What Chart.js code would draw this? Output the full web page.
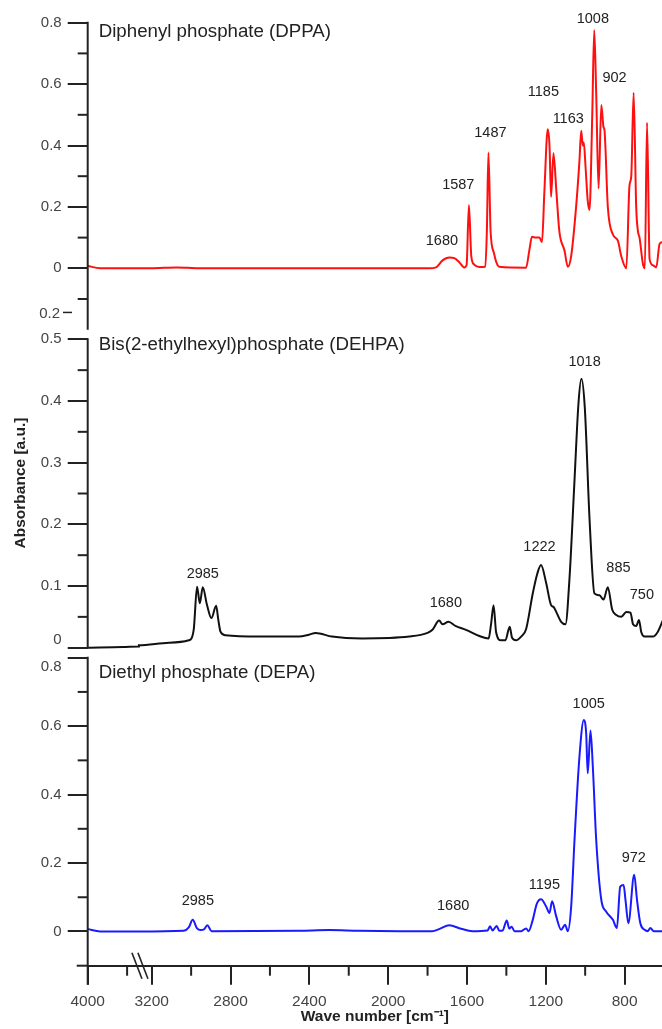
<!DOCTYPE html>
<html>
<head>
<meta charset="utf-8">
<script src="https://cdn.jsdelivr.net/npm/chart.js@4.4.1/dist/chart.umd.min.js"></script>
<style>
  html, body { margin: 0; padding: 0; background: #fff; }
</style>
</head>
<body>
<canvas id="irChart" width="662" height="1029"></canvas>
<script>
// spectra: [wave number, absorbance]
const dppa = [[4000,0.008],[3937,0],[3785,0],[3740,0],[3265,0],[3205,0],[3073,0.003],[2961,0],[2453,0],[1944,0],
  [1792,0],[1757,0.003],[1725,0.025],[1690,0.035],[1664,0.033],[1639,0.02],[1614,0.003],[1602,0.01],[1590,0.206],
  [1578,0.04],[1563,0.012],[1537,0.004],[1507,0.005],[1499,0.12],[1491,0.377],[1480,0.12],[1463,0.05],[1451,0.02],
  [1436,0.005],[1300,0.002],[1283,0.06],[1270,0.103],[1253,0.1],[1232,0.1],[1219,0.085],[1207,0.25],[1190,0.453],
  [1181,0.4],[1173,0.233],[1161,0.375],[1146,0.25],[1131,0.12],[1105,0.058],[1088,0.005],[1071,0.04],[1046,0.2],
  [1029,0.35],[1020,0.448],[1012,0.4],[1007,0.41],[998,0.33],[987,0.22],[978,0.19],[964,0.5],[954,0.776],[944,0.57],
  [932,0.26],[918,0.532],[907,0.46],[902,0.45],[885,0.2],[859,0.11],[834,0.09],[817,0.04],[791,0],[775,0.27],
  [766,0.3],[754,0.572],[741,0.2],[732,0.12],[724,0.1],[707,0.015],[697,0],[686,0.474],[673,0.03],[656,0.01],
  [639,0.003],[622,0.08],[605,0.085]];

const dehpa = [[4000,0],[3820,0.001],[3740,0.002],[3265,0.004],[3114,0.008],[3012,0.012],[2987,0.029],[2970,0.099],
  [2956,0.072],[2941,0.098],[2920,0.07],[2897,0.048],[2873,0.068],[2862,0.045],[2851,0.026],[2826,0.02],[2656,0.018],
  [2453,0.018],[2402,0.021],[2368,0.024],[2285,0.018],[2132,0.015],[1893,0.018],[1800,0.024],[1775,0.029],[1741,0.044],
  [1724,0.038],[1694,0.042],[1656,0.035],[1605,0.029],[1537,0.019],[1490,0.015],[1477,0.04],[1465,0.069],[1452,0.025],
  [1427,0.012],[1405,0.012],[1383,0.034],[1371,0.016],[1351,0.012],[1325,0.018],[1300,0.03],[1266,0.088],[1243,0.12],
  [1224,0.134],[1198,0.105],[1173,0.069],[1160,0.066],[1144,0.056],[1122,0.042],[1100,0.038],[1080,0.11],[1054,0.272],
  [1034,0.396],[1019,0.436],[1002,0.39],[978,0.21],[953,0.088],[927,0.085],[907,0.078],[885,0.098],[863,0.062],
  [842,0.053],[817,0.05],[791,0.058],[770,0.057],[757,0.038],[741,0.035],[727,0.045],[715,0.025],[698,0.018],
  [656,0.018],[631,0.026],[605,0.045]];

const depa = [[4000,0.007],[3937,0],[3740,0],[3265,0],[3038,0.002],[3012,0.012],[2992,0.034],[2971,0.01],[2952,0.004],
  [2935,0.006],[2918,0.018],[2896,0.001],[2453,0.002],[2300,0.004],[2148,0.002],[1944,0.001],[1776,0.001],[1741,0.007],
  [1690,0.018],[1630,0.008],[1573,0.001],[1495,0.003],[1483,0.015],[1470,0.003],[1449,0.016],[1436,0.002],[1419,0.003],
  [1398,0.032],[1385,0.008],[1373,0.014],[1359,0.001],[1325,0.001],[1300,0.009],[1287,0.001],[1266,0.034],[1246,0.08],
  [1224,0.094],[1198,0.073],[1181,0.054],[1168,0.088],[1147,0.044],[1122,0.005],[1102,0.02],[1088,0.001],[1071,0.073],
  [1054,0.268],[1029,0.511],[1007,0.618],[995,0.58],[987,0.462],[973,0.587],[961,0.48],[944,0.268],[918,0.092],
  [893,0.058],[859,0.034],[839,0.01],[822,0.131],[805,0.136],[795,0.09],[781,0.024],[751,0.166],[737,0.093],
  [720,0.024],[698,0.005],[682,0.001],[669,0.01],[652,0.001],[605,0.001]];

// tick labels
const xMajor = [4000, 3200, 2800, 2400, 2000, 1600, 1200, 800];
const xMinor = [3800, 3000, 2600, 2200, 1800, 1400, 1000];
const topTicks = [0.8, 0.6, 0.4, 0.2, 0];
const midTicks = [0.5, 0.4, 0.3, 0.2, 0.1, 0];
const botTicks = [0.8, 0.6, 0.4, 0.2, 0];
const topMinor = [0.7, 0.5, 0.3, 0.1, -0.1];
const midMinor = [0.45, 0.35, 0.25, 0.15, 0.05];
const botMinor = [0.7, 0.5, 0.3, 0.1];

const titles = ['Diphenyl phosphate (DPPA)', 'Bis(2-ethylhexyl)phosphate (DEHPA)', 'Diethyl phosphate (DEPA)'];

// peak labels: [text, wave number, absorbance] per panel
const dppaPeaks = [['1680',1727,0.09],['1587',1644,0.271],['1487',1481,0.442],['1185',1212,0.575],
  ['1163',1086,0.486],['1008',961,0.812],['902',851,0.619]];
const dehpaPeaks = [['2985',2941,0.119],['1680',1707,0.073],['1222',1232,0.164],['1018',1003,0.463],
  ['885',831,0.13],['750',712,0.085]];
const depaPeaks = [['2985',2966,0.09],['1680',1670,0.075],['1195',1207,0.136],['1005',982,0.665],['972',753,0.216]];

const FONT = "'Liberation Sans', Arial, sans-serif";
const INK = '#222';

// broken axis: 4000..3740 then 3265..
function toAxis(w) {
  return w >= 3740 ? 4000 - w : 3525 - w;
}
function toPoints(pairs) {
  return pairs.map(p => ({ x: toAxis(p[0]), y: p[1] }));
}

// shift: labels that sit off their tick where two panels meet
const panels = [
  { id: 'yTop', from: 0.8, to: -0.2, minor: topMinor, title: titles[0], titleY: 0.771, peaks: dppaPeaks, shifted: null },
  { id: 'yMid', from: 0.5, to: 0, minor: midMinor, title: titles[1], titleY: 0.491, peaks: dehpaPeaks, shifted: [0, -8] },
  { id: 'yBot', from: 0.8, to: -0.1, minor: botMinor, title: titles[2], titleY: 0.755, peaks: depaPeaks, shifted: [0.8, 9] }
];

function line(ctx, x1, y1, x2, y2) {
  ctx.beginPath();
  ctx.moveTo(x1, y1);
  ctx.lineTo(x2, y2);
  ctx.stroke();
}

function fmt(v) {
  return v === 0 ? '0' : v.toFixed(1);
}

const frame = {
  id: 'frame',
  afterDraw(chart) {
    const ctx = chart.ctx;
    const area = chart.chartArea;
    const sx = chart.scales.x;
    ctx.save();
    ctx.strokeStyle = INK;
    ctx.lineWidth = 2;

    panels.forEach(p => {
      const sc = chart.scales[p.id];
      line(ctx, area.left, sc.getPixelForValue(p.from) - 1, area.left, sc.getPixelForValue(p.to));
      p.minor.forEach(v => {
        const y = sc.getPixelForValue(v);
        line(ctx, area.left - 10, y, area.left, y);
      });
    });
    // y axis of the bottom panel runs down into the 4000 tick
    line(ctx, area.left, area.bottom, area.left, area.bottom + 19);

    xMinor.forEach(w => {
      const x = sx.getPixelForValue(toAxis(w));
      line(ctx, x, area.bottom, x, area.bottom + 10);
    });
    line(ctx, area.left - 11, area.bottom, area.left, area.bottom);

    // break marks
    const bx = sx.getPixelForValue(toAxis(3740));
    ctx.lineWidth = 1.6;
    line(ctx, bx - 7, area.bottom - 13, bx + 3, area.bottom + 13);
    line(ctx, bx - 1, area.bottom - 13, bx + 9, area.bottom + 13);

    ctx.fillStyle = '#444';
    ctx.font = '15px ' + FONT;
    ctx.textAlign = 'right';
    ctx.textBaseline = 'middle';
    // tick labels moved off their ticks at the panel joins
    panels.forEach(p => {
      if (!p.shifted) return;
      const sc = chart.scales[p.id];
      ctx.fillText(fmt(p.shifted[0]), area.left - 26, sc.getPixelForValue(p.shifted[0]) + p.shifted[1]);
    });
    // stray label left over between top and middle panel
    const yt = chart.scales.yTop.getPixelForValue(-0.147);
    ctx.fillText('0.2', 60, yt);
    ctx.lineWidth = 1.5;
    line(ctx, 63, yt - 1, 72, yt - 1);

    // panel titles and peak labels
    ctx.fillStyle = INK;
    panels.forEach(p => {
      const sc = chart.scales[p.id];
      ctx.font = '18.7px ' + FONT;
      ctx.textAlign = 'left';
      ctx.fillText(p.title, area.left + 11, sc.getPixelForValue(p.titleY));
      ctx.font = '14.5px ' + FONT;
      ctx.textAlign = 'center';
      p.peaks.forEach(k => {
        ctx.fillText(k[0], sx.getPixelForValue(toAxis(k[1])), sc.getPixelForValue(k[2]));
      });
    });

    // y axis title
    ctx.save();
    ctx.translate(21, 483);
    ctx.rotate(-Math.PI / 2);
    ctx.font = 'bold 15.5px ' + FONT;
    ctx.textAlign = 'center';
    ctx.fillText('Absorbance [a.u.]', 0, 0);
    ctx.restore();

    ctx.restore();
  }
};

function yAxis(ticks, min, max, weight, order, hidden) {
  return {
    type: 'linear',
    position: 'left',
    stack: 'panels',
    stackWeight: weight,
    weight: order,
    min: min,
    max: max,
    afterBuildTicks: s => { s.ticks = ticks.map(v => ({ value: v })); },
    afterFit: s => { s.width = 87.7; },
    ticks: {
      font: { family: FONT, size: 15 },
      color: '#444',
      padding: 6,
      callback: v => (v === hidden ? '' : fmt(v))
    },
    grid: { drawOnChartArea: false, tickLength: 20, tickColor: INK, lineWidth: 2 },
    border: { display: false }
  };
}

const ctx = document.getElementById('irChart').getContext('2d');
new Chart(ctx, {
  type: 'line',
  data: {
    datasets: [
      { label: 'DPPA', data: toPoints(dppa), yAxisID: 'yTop', borderColor: '#ff1010', borderWidth: 2 },
      { label: 'DEHPA', data: toPoints(dehpa), yAxisID: 'yMid', borderColor: '#111111', borderWidth: 2 },
      { label: 'DEPA', data: toPoints(depa), yAxisID: 'yBot', borderColor: '#1a1aff', borderWidth: 2 }
    ]
  },
  options: {
    responsive: false,
    animation: false,
    events: [],
    parsing: false,
    elements: {
      point: { radius: 0 },
      line: { cubicInterpolationMode: 'monotone', fill: false }
    },
    layout: { padding: { top: 22.7, left: 0, right: 0, bottom: 0 } },
    plugins: { legend: { display: false }, tooltip: { enabled: false } },
    scales: {
      x: {
        type: 'linear',
        min: 0,
        max: 2915,
        afterBuildTicks: s => { s.ticks = xMajor.map(w => ({ value: toAxis(w) })); },
        afterFit: s => { s.height = 63.3; },
        ticks: {
          font: { family: FONT, size: 15.5 },
          color: '#444',
          padding: 8,
          maxRotation: 0,
          autoSkip: false,
          callback: (v, i) => String(xMajor[i])
        },
        grid: { drawOnChartArea: false, tickLength: 19, tickColor: INK, lineWidth: 2 },
        border: { color: INK, width: 2 },
        title: {
          display: true,
          text: 'Wave number [cm⁻¹]',
          color: INK,
          font: { family: FONT, size: 15.5, weight: 'bold' },
          padding: { top: 0, bottom: 3 }
        }
      },
      yTop: yAxis(topTicks, -0.2156, 0.8, 311.8, 3, null),
      yMid: yAxis(midTicks, -0.0081, 0.5078, 318.2, 2, 0),
      yBot: yAxis(botTicks, -0.1, 0.8146, 313, 1, 0.8)
    }
  },
  plugins: [frame]
});
</script>
</body>
</html>
